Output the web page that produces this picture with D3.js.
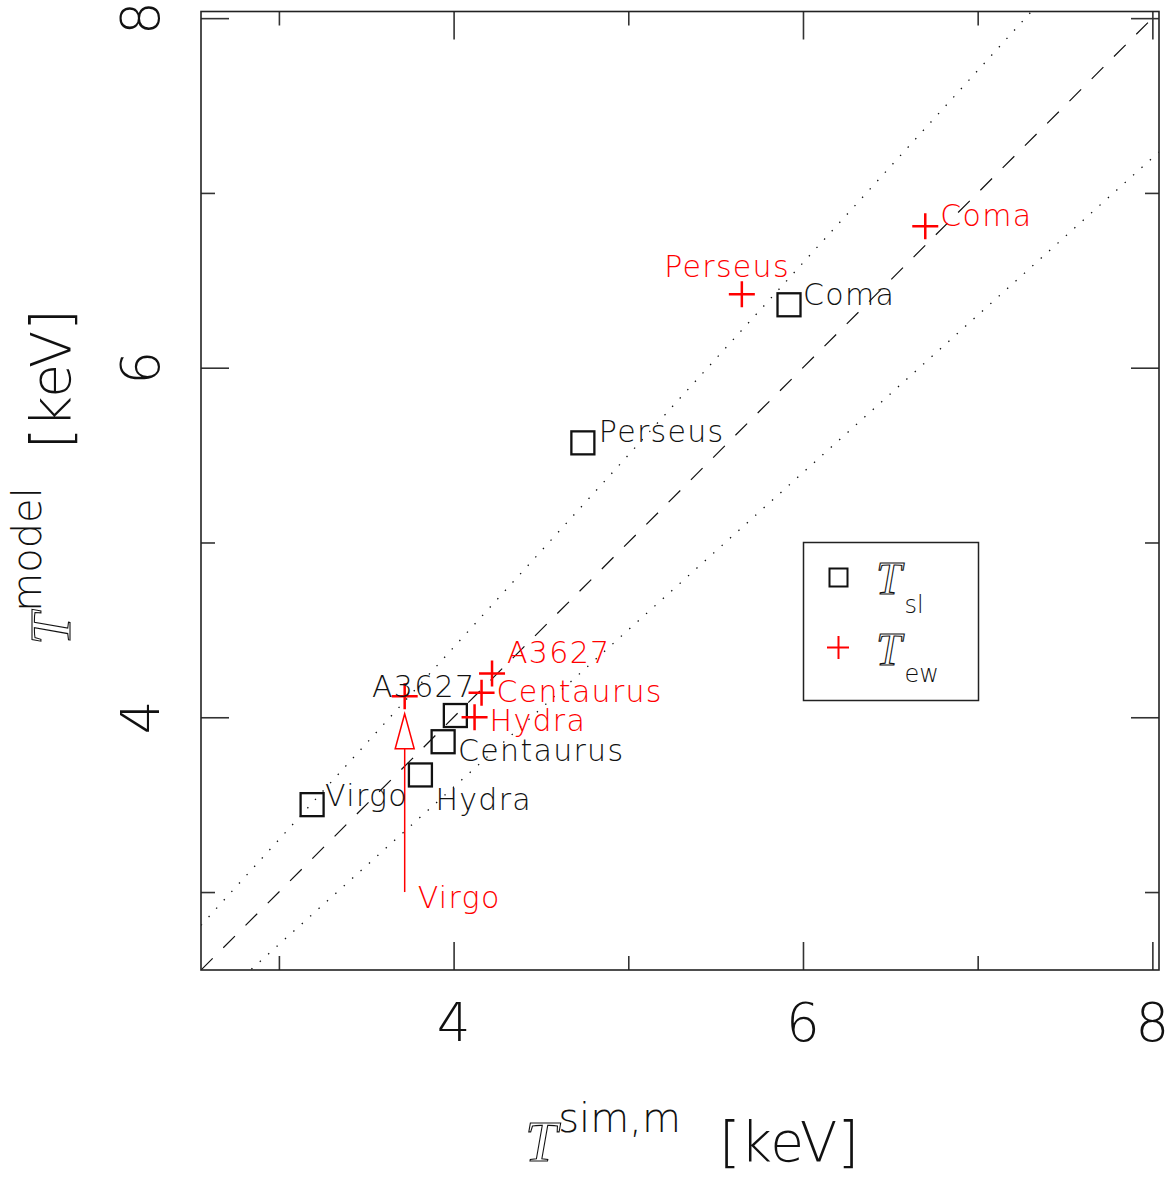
<!DOCTYPE html>
<html>
<head>
<meta charset="utf-8">
<script src="https://cdn.jsdelivr.net/npm/d3@7"></script>
<style>
  html, body { margin: 0; padding: 0; background: #fff; }
  svg { display: block; }
  .thin { font-family: "DejaVu Sans", "Inter", sans-serif; font-weight: 200; }
  .ital { font-family: "Liberation Serif", "DejaVu Serif", serif; font-style: italic; }
</style>
</head>
<body>
<svg id="chart" width="1175" height="1178"></svg>
<script>
// Cluster names
const clusters = ["Virgo", "Hydra", "Centaurus", "A3627", "Perseus", "Coma"];

// Spectroscopic-like temperatures (squares)
const tSimSl   = [3.19, 3.81, 3.94, 4.01, 4.74, 5.92];
const tModelSl = [3.50, 3.67, 3.86, 4.01, 5.57, 6.36];

// Emission-weighted temperatures (crosses)
const tSimEw   = [3.72, 4.12, 4.16, 4.22, 5.65, 6.70];
const tModelEw = [4.12, 4.00, 4.14, 4.25, 6.42, 6.81];

// Virgo emission-weighted limit arrow
const arrowCluster = "Virgo";
const arrowX = 3.72;
const arrowFrom = 3.00;
const arrowTo = 4.02;

// Reference relations T_model = k * T_sim
const relSlopes = [1.0, 1.1, 0.9];

// Axis ticks
const majorTicks = [4, 6, 8];
const minorTicks = [3, 5, 7];
const axisDomain = [2.554, 8.038];

// ---- layout ----
const L = 201, R = 1159, T = 11.5, B = 970;
const svg = d3.select("#chart");

const x = d3.scaleLinear().domain(axisDomain).range([L, R]);
const y = d3.scaleLinear().domain(axisDomain).range([B, T]);

// label placement (pixel offsets from the marker, baseline-anchored)
const slLabelPos = {
  Virgo: [13, 1, "start"], Hydra: [15, 35, "start"], Centaurus: [15, 19, "start"],
  A3627: [20, -19, "end"], Perseus: [16, -1, "start"], Coma: [14, 0, "start"]
};
const ewLabelPos = {
  Virgo: [13, 16, "start"], Hydra: [15, 14, "start"], Centaurus: [15, 9, "start"],
  A3627: [15, -11, "start"], Perseus: [48, -17, "end"], Coma: [15, 0, "start"]
};

svg.append("defs").append("clipPath").attr("id", "plotclip")
  .append("rect").attr("x", L).attr("y", T).attr("width", R - L).attr("height", B - T);

// reference lines
const lo = axisDomain[0], hi = axisDomain[1];
const plot = svg.append("g").attr("clip-path", "url(#plotclip)");
relSlopes.forEach(k => {
  plot.append("line")
    .attr("x1", x(lo)).attr("y1", y(k * lo))
    .attr("x2", x(hi)).attr("y2", y(k * hi))
    .attr("stroke", "#111")
    .attr("stroke-width", k === 1 ? 1.2 : 1.3)
    .attr("stroke-dasharray", k === 1 ? "16.5,15" : "1.4,9.9");
});

// ticks on all four sides, drawn inward
function ticks(axisGen, scale, values, len, transform) {
  svg.append("g").attr("transform", transform)
    .call(axisGen(scale).tickValues(values).tickSize(len).tickFormat(""))
    .call(g => g.select(".domain").remove())
    .call(g => g.selectAll(".tick line").attr("stroke", "#333").attr("stroke-width", 1.6));
}
[[majorTicks, 28], [minorTicks, 14]].forEach(([vals, len]) => {
  ticks(d3.axisBottom, x, vals, -len, `translate(0,${B})`);
  ticks(d3.axisTop, x, vals, -len, `translate(0,${T})`);
  ticks(d3.axisLeft, y, vals, -len, `translate(${L},0)`);
  ticks(d3.axisRight, y, vals, -len, `translate(${R},0)`);
});

// frame
svg.append("rect").attr("x", L).attr("y", T).attr("width", R - L).attr("height", B - T)
  .attr("fill", "none").attr("stroke", "#222").attr("stroke-width", 1.6);

// tick labels
svg.append("g").selectAll("text").data(majorTicks).join("text")
  .attr("class", "thin")
  .attr("x", d => x(d)).attr("y", 1041)
  .attr("text-anchor", "middle").attr("font-size", 53).attr("fill", "#111")
  .text(d => d);
svg.append("g").selectAll("text").data(majorTicks).join("text")
  .attr("class", "thin")
  .attr("transform", d => `translate(159,${y(d)}) rotate(-90)`)
  .attr("text-anchor", "middle").attr("font-size", 53).attr("fill", "#111")
  .text(d => d);

// italic T drawn as an outline (double-stroke look)
function italT(sel, size) {
  sel.append("tspan").attr("class", "ital").attr("font-size", size)
    .attr("fill", "none").attr("stroke", "#111").attr("stroke-width", 1.1).text("T");
}

// axis titles
function title(sel, sup) {
  italT(sel, 58);
  sel.append("tspan").attr("class", "thin").attr("fill", "#111").attr("font-size", 40).attr("dy", -29).attr("dx", 1).text(sup);
  sel.append("tspan").attr("class", "thin").attr("fill", "#111").attr("font-size", 55).attr("dy", 29).attr("dx", 38).text("[keV]");
}
svg.append("text").attr("x", 525).attr("y", 1161).call(title, "sim,m");
svg.append("text").attr("transform", "translate(70,645) rotate(-90)").call(title, "model");

// Virgo arrow (line + open head)
const ax = x(arrowX), ay0 = y(arrowFrom), ay1 = y(arrowTo);
svg.append("line").attr("x1", ax).attr("x2", ax).attr("y1", ay0).attr("y2", ay1 + 35)
  .attr("stroke", "red").attr("stroke-width", 1.5);
svg.append("path")
  .attr("d", `M${ax},${ay1} L${ax - 9.5},${ay1 + 35} L${ax + 9.5},${ay1 + 35} Z`)
  .attr("fill", "none").attr("stroke", "red").attr("stroke-width", 1.5);

// squares
const sq = 23;
const slData = clusters.map((c, i) => ({ c, xs: tSimSl[i], ym: tModelSl[i] }));
svg.append("g").selectAll("rect").data(slData).join("rect")
  .attr("x", d => x(d.xs) - sq / 2).attr("y", d => y(d.ym) - sq / 2)
  .attr("width", sq).attr("height", sq)
  .attr("fill", "none").attr("stroke", "#111").attr("stroke-width", 2.3);

// crosses
const arm = 13;
const ewData = clusters.map((c, i) => ({ c, xs: tSimEw[i], ym: tModelEw[i] }));
svg.append("g").selectAll("path").data(ewData).join("path")
  .attr("d", d => {
    const px = x(d.xs), py = y(d.ym);
    return `M${px - arm},${py}H${px + arm}M${px},${py - arm}V${py + arm}`;
  })
  .attr("stroke", "red").attr("stroke-width", 2.5).attr("fill", "none");

// labels
const lab = svg.append("g").attr("class", "thin").attr("font-size", 30).attr("letter-spacing", 1.3);
lab.selectAll("text.sl").data(slData).join("text").attr("class", "sl")
  .attr("x", d => x(d.xs) + slLabelPos[d.c][0])
  .attr("y", d => y(d.ym) + slLabelPos[d.c][1])
  .attr("text-anchor", d => slLabelPos[d.c][2])
  .attr("fill", "#111").text(d => d.c);
lab.selectAll("text.ew").data(ewData).join("text").attr("class", "ew")
  .attr("x", d => x(d.xs) + ewLabelPos[d.c][0])
  .attr("y", d => (d.c === arrowCluster ? y(arrowFrom) : y(d.ym)) + ewLabelPos[d.c][1])
  .attr("text-anchor", d => ewLabelPos[d.c][2])
  .attr("fill", "red").text(d => d.c);

// legend
const lg = svg.append("g");
lg.append("rect").attr("x", 803.5).attr("y", 542.5).attr("width", 175).attr("height", 158)
  .attr("fill", "#fff").attr("stroke", "#222").attr("stroke-width", 1.5);
lg.append("rect").attr("x", 829.5).attr("y", 568.5).attr("width", 18).attr("height", 18)
  .attr("fill", "none").attr("stroke", "#111").attr("stroke-width", 2);
lg.append("path").attr("d", "M827,647.5H849M838.5,636V659")
  .attr("stroke", "red").attr("stroke-width", 2);
[["sl", 594, 613], ["ew", 665, 682]].forEach(([sub, by, sy]) => {
  const t = lg.append("text").attr("x", 876).attr("y", by);
  italT(t, 46);
  t.append("tspan").attr("class", "thin").attr("fill", "#111").attr("font-size", 24).attr("dx", 3).attr("dy", sy - by).text(sub);
});
</script>
</body>
</html>
